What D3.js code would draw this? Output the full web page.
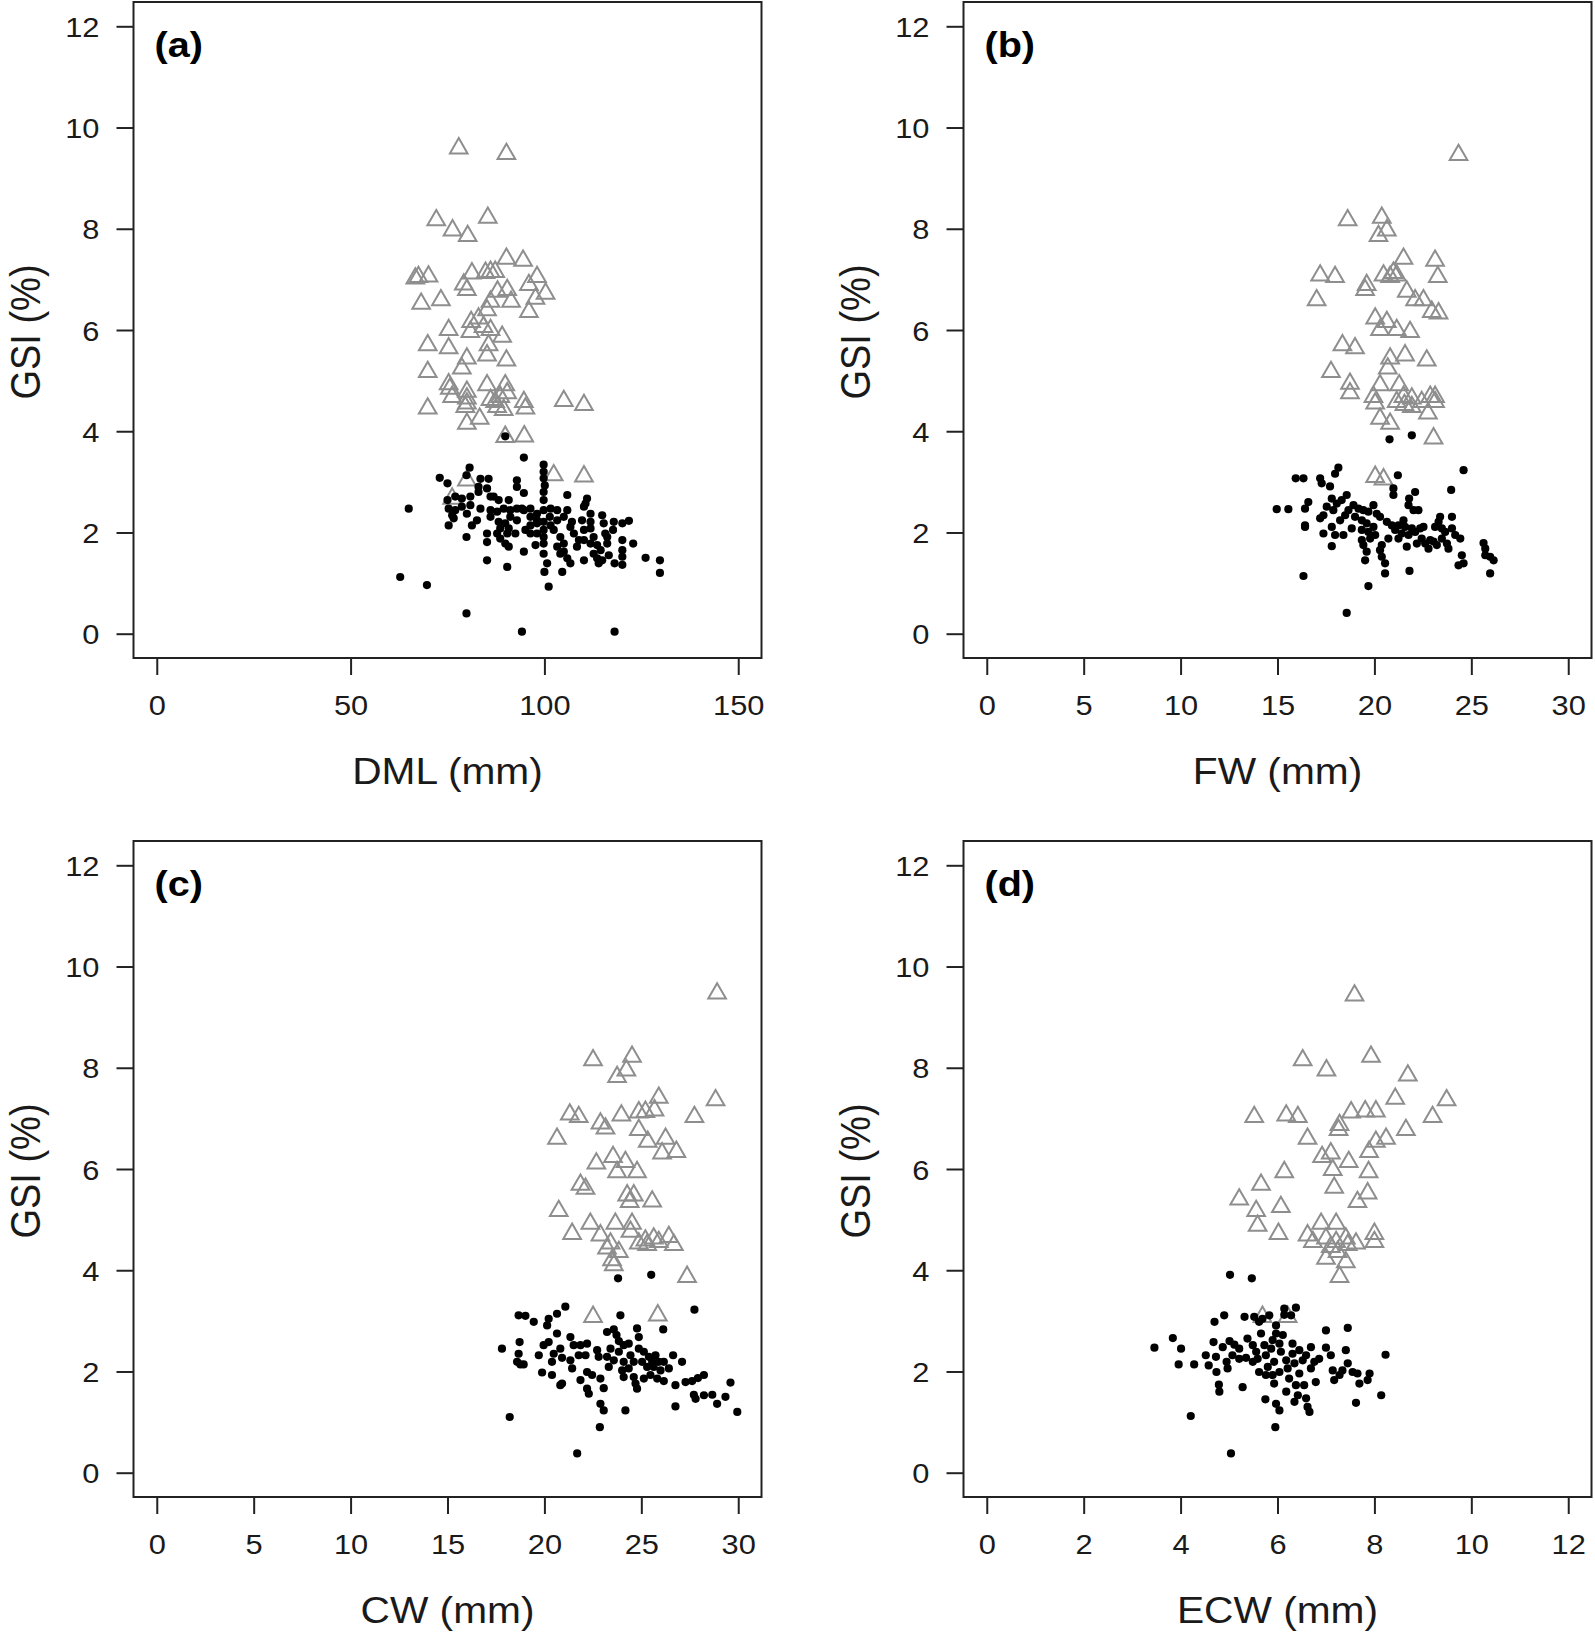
<!DOCTYPE html>
<html><head><meta charset="utf-8">
<script src="https://cdn.jsdelivr.net/npm/d3@7"></script>
<style>body{margin:0;background:#fff}svg{display:block}</style>
</head><body>
<svg id="chart" width="1595" height="1634"></svg>
<script>
// ---------- tick labels ----------
const gsiTicks = [0, 2, 4, 6, 8, 10, 12];
const dmlTicks = [0, 50, 100, 150];
const fwTicks = [0, 5, 10, 15, 20, 25, 30];
const cwTicks = [0, 5, 10, 15, 20, 25, 30];
const ecwTicks = [0, 2, 4, 6, 8, 10, 12];

// ---------- (a) DML vs GSI ----------
const dmlTri = [[77.9,9.59],[90.2,9.48],[72.1,8.17],[85.4,8.22],[76.3,7.97],[80.2,7.86],[90.2,7.41],[94.5,7.37],[67.5,7.05],[70.1,7.06],[66.7,7.02],[81.3,7.12],[86.1,7.15],[87.3,7.15],[84.8,7.13],[98.1,7.05],[79.2,6.90],[80.0,6.79],[96.0,6.89],[87.9,6.76],[90.4,6.79],[100.3,6.72],[97.7,6.62],[91.4,6.56],[68.2,6.52],[73.3,6.59],[86.1,6.56],[96.0,6.36],[85.2,6.39],[81.1,6.16],[83.0,6.23],[80.9,5.96],[84.3,6.06],[86.1,6.0],[75.3,6.0],[89.1,5.87],[69.9,5.70],[75.3,5.64],[85.6,5.70],[80.0,5.44],[85.2,5.5],[90.2,5.40],[78.7,5.24],[69.9,5.17],[75.3,4.93],[75.6,4.84],[80.0,4.78],[85.2,4.91],[89.9,4.91],[76.2,4.68],[80.0,4.65],[86.1,4.62],[88.6,4.68],[90.4,4.75],[87.3,4.58],[79.6,4.48],[94.7,4.58],[95.1,4.45],[69.9,4.45],[89.5,4.42],[105.0,4.60],[110.2,4.52],[83.3,4.25],[80.0,4.15],[89.9,3.89],[94.8,3.90],[102.4,3.13],[110.2,3.11],[80.0,3.03],[76.2,2.67],[87.8,4.48],[80.0,4.55]];
const dmlDot = [[62.8,1.12],[69.7,0.96],[79.9,0.40],[94.2,0.04],[118.1,0.04],[65.0,2.47],[89.9,3.90],[94.7,3.48],[73.0,3.08],[75.0,2.97],[80.7,3.28],[79.9,3.13],[99.8,3.34],[99.8,3.20],[99.8,3.07],[100.1,2.93],[99.8,2.80],[99.8,2.64],[92.9,3.03],[92.9,2.90],[94.7,2.78],[83.5,3.06],[85.6,3.06],[83.0,2.90],[85.2,2.87],[83.0,2.80],[105.9,2.74],[111.0,2.67],[110.6,2.57],[75.0,2.64],[86.1,2.71],[88.2,2.64],[90.8,2.64],[75.3,2.47],[77.0,2.44],[78.7,2.51],[80.9,2.54],[76.2,2.34],[76.6,2.28],[75.3,2.14],[82.6,2.24],[81.3,2.14],[79.9,1.91],[85.2,1.98],[85.2,1.81],[85.2,1.45],[90.4,1.32],[86.1,2.44],[87.8,2.41],[89.5,2.47],[91.2,2.44],[92.9,2.47],[94.7,2.44],[96.4,2.47],[98.1,2.37],[88.2,2.21],[89.9,2.18],[88.6,2.08],[90.4,1.98],[89.9,1.78],[90.8,1.72],[94.7,1.62],[95.1,2.05],[96.4,2.14],[98.1,2.18],[97.7,1.75],[99.8,1.58],[100.0,1.22],[101.1,0.93],[101.4,2.31],[101.6,2.14],[102.4,2.05],[103.3,2.44],[103.3,2.24],[105.0,2.31],[104.1,1.91],[105.0,1.78],[105.0,1.62],[105.9,1.49],[106.7,1.39],[104.6,1.22],[107.1,2.21],[107.6,1.98],[109.7,2.24],[110.2,2.05],[110.2,1.85],[110.2,1.45],[111.9,2.21],[111.9,2.08],[112.7,1.91],[113.6,1.75],[114.5,1.65],[114.0,1.39],[114.9,2.34],[115.3,2.18],[115.7,1.98],[116.2,1.78],[114.9,1.45],[117.9,2.21],[117.7,2.05],[118.1,1.39],[120.1,2.18],[120.1,1.85],[120.1,1.65],[120.1,1.52],[120.1,1.36],[121.8,2.23],[122.9,1.78],[126.1,1.50],[129.8,1.45],[129.8,1.20],[80.0,2.37],[83.5,2.47],[86.1,2.31],[86.9,2.71],[87.8,1.98],[88.6,1.88],[91.2,2.31],[92.9,2.24],[96.4,2.31],[98.1,2.24],[99.8,2.44],[99.8,2.21],[99.8,2.05],[99.8,1.91],[99.8,1.78],[101.6,2.47],[105.9,2.44],[106.7,2.11],[108.4,1.72],[108.9,1.85],[111.9,1.78],[112.7,1.58],[113.6,1.49],[116.6,1.55],[116.2,1.91],[80.9,2.71],[78.7,2.67],[77.0,2.71],[90.8,2.08],[92.5,1.98],[96.4,1.98],[98.1,1.98],[94.2,2.47],[100.7,1.39],[103.3,1.72],[104.1,1.58],[110.2,2.51],[111.9,2.37]];

// ---------- (b) FW vs GSI ----------
const fwTri = [[24.34,9.46],[18.62,8.17],[20.38,8.22],[20.64,7.97],[20.21,7.86],[21.5,7.41],[23.13,7.37],[17.2,7.08],[17.97,7.05],[20.47,7.08],[20.98,7.13],[21.15,7.08],[20.81,7.05],[23.27,7.05],[19.6,6.89],[19.52,6.79],[21.67,6.76],[22.1,6.59],[22.53,6.59],[17.02,6.59],[22.96,6.36],[23.31,6.33],[20.04,6.23],[20.64,6.16],[20.29,6.0],[21.15,6.0],[21.84,5.96],[18.35,5.70],[19.0,5.64],[20.81,5.44],[21.58,5.5],[22.7,5.40],[17.76,5.17],[20.69,5.24],[18.74,4.94],[18.74,4.75],[20.29,4.91],[21.28,4.91],[19.95,4.68],[20.04,4.55],[21.15,4.58],[21.5,4.68],[21.93,4.65],[22.44,4.58],[23.13,4.68],[23.13,4.58],[21.55,4.52],[22.76,4.35],[20.29,4.25],[20.81,4.15],[23.05,3.86],[20.04,3.10],[20.47,3.05],[21.93,4.48],[22.88,4.68]];
const fwDot = [[18.57,0.41],[16.34,1.14],[19.69,0.94],[20.55,1.19],[21.81,1.24],[20.78,3.84],[21.93,3.92],[24.6,3.23],[23.96,2.84],[18.14,3.28],[17.97,3.16],[15.94,3.07],[16.34,3.07],[17.2,3.07],[17.28,2.97],[17.71,2.91],[21.21,3.13],[20.98,2.87],[20.98,2.74],[22.1,2.80],[21.79,2.67],[21.76,2.54],[22.02,2.44],[22.27,2.44],[14.96,2.46],[15.56,2.46],[16.42,2.47],[16.59,2.60],[16.42,2.14],[16.42,2.11],[17.37,2.34],[17.2,2.28],[17.54,2.51],[17.8,2.67],[18.06,2.57],[18.31,2.64],[18.57,2.74],[17.88,2.44],[18.23,2.24],[17.8,2.11],[17.37,1.98],[17.97,1.95],[18.4,1.95],[17.8,1.73],[18.92,2.54],[19.18,2.47],[19.43,2.44],[19.69,2.41],[19.95,2.54],[20.12,2.37],[20.29,2.31],[19.35,2.24],[19.6,2.18],[19.35,2.05],[19.69,2.01],[19.95,2.11],[20.04,1.95],[19.43,1.75],[19.6,1.62],[19.52,1.45],[20.29,1.65],[20.38,1.75],[20.55,1.39],[20.72,1.88],[20.64,2.21],[20.9,2.14],[21.07,2.05],[21.41,1.98],[21.24,2.14],[21.5,2.24],[21.67,1.72],[21.76,1.95],[21.93,2.08],[22.1,2.01],[22.19,1.78],[22.36,2.08],[22.53,2.11],[22.62,1.78],[22.79,1.68],[22.88,1.85],[23.05,1.82],[23.13,2.11],[23.31,2.21],[23.39,2.31],[23.48,2.08],[23.48,1.88],[23.65,2.01],[23.74,1.78],[23.82,1.68],[24.0,2.31],[24.0,2.08],[24.17,1.95],[24.43,1.88],[24.51,1.55],[24.34,1.35],[24.6,1.39],[25.63,1.79],[25.72,1.68],[25.72,1.55],[25.97,1.52],[25.97,1.19],[26.15,1.45],[19.35,1.85],[18.66,2.44],[18.49,2.34],[19.0,2.31],[21.24,1.88],[21.58,2.11],[22.44,1.88],[23.22,1.75],[19.78,1.88],[20.38,1.52],[18.83,2.08]];

// ---------- (c) CW vs GSI ----------
const cwTri = [[28.91,9.47],[22.51,8.15],[24.52,8.22],[24.23,7.95],[23.75,7.82],[25.9,7.41],[28.83,7.36],[27.74,7.03],[21.31,7.08],[21.77,7.03],[23.97,7.06],[24.87,7.12],[25.21,7.13],[25.68,7.16],[22.89,6.9],[23.15,6.8],[20.65,6.6],[24.87,6.77],[25.33,6.54],[26.25,6.6],[26.07,6.31],[26.81,6.34],[23.54,6.24],[24.18,6.14],[23.75,5.94],[24.78,5.94],[22.68,6.11],[21.86,5.69],[22.12,5.61],[24.27,5.48],[24.61,5.48],[24.4,5.35],[25.56,5.36],[20.74,5.17],[22.37,4.92],[23.66,4.92],[24.52,4.92],[21.43,4.72],[22.89,4.69],[23.41,4.53],[24.87,4.53],[25.21,4.59],[25.64,4.63],[25.9,4.56],[26.42,4.66],[26.68,4.5],[23.84,4.36],[23.49,4.2],[23.58,4.1],[27.36,3.87],[22.51,3.08],[25.85,3.11],[25.3,4.5],[23.23,4.43],[24.44,4.76]];
const cwDot = [[21.69,0.38],[18.21,1.10],[22.86,0.90],[24.18,1.23],[26.76,1.31],[29.95,1.20],[29.6,1.78],[23.8,3.84],[25.51,3.91],[27.74,3.22],[26.13,2.83],[23.92,3.11],[21.08,3.28],[20.65,3.14],[20.22,3.04],[20.14,2.91],[18.67,3.11],[19.02,3.1],[19.45,2.98],[17.81,2.45],[18.72,2.58],[18.67,2.35],[18.76,2.14],[18.93,2.14],[19.88,1.98],[20.39,1.93],[20.39,2.19],[19.71,2.32],[19.96,2.52],[20.22,2.58],[20.65,2.75],[20.82,2.45],[20.91,2.27],[20.91,1.76],[21.34,2.68],[21.34,2.22],[21.43,2.06],[21.86,2.52],[21.86,1.83],[21.77,2.32],[22.2,2.55],[22.12,2.32],[22.2,1.99],[22.2,1.66],[22.29,1.56],[22.89,1.36],[23.06,1.23],[22.46,1.93],[22.72,2.42],[22.8,2.29],[22.89,1.86],[23.06,1.67],[23.32,2.09],[23.41,2.45],[23.58,2.83],[23.72,2.72],[23.84,2.6],[23.58,2.22],[23.84,2.39],[24.09,2.52],[24.09,2.19],[24.01,2.02],[24.09,1.89],[24.35,2.06],[24.44,2.32],[24.61,1.89],[24.7,1.76],[24.78,1.66],[24.87,2.68],[24.87,2.45],[25.04,2.19],[25.13,2.39],[25.3,2.09],[25.39,2.29],[25.47,1.93],[25.56,2.19],[25.64,2.09],[25.73,2.32],[25.82,1.86],[25.99,2.02],[26.16,2.19],[26.16,1.81],[26.42,2.06],[26.64,2.32],[26.76,1.73],[27.1,2.19],[27.28,1.79],[27.62,1.81],[27.92,1.87],[28.23,1.93],[27.71,1.54],[27.8,1.46],[28.23,1.53],[28.66,1.54],[28.91,1.36],[29.34,1.5],[24.78,2.85],[23.23,2.78],[24.35,2.55],[21.51,2.52],[20.48,2.35],[23.23,2.29],[24.61,2.19],[25.13,1.86],[25.9,2.19],[20.82,1.73],[18.59,2.19]];

// ---------- (d) ECW vs GSI ----------
const ecwTri = [[7.59,9.43],[6.52,8.15],[7.93,8.22],[7.01,7.95],[8.69,7.85],[8.43,7.39],[9.49,7.36],[9.2,7.03],[5.52,7.03],[6.18,7.06],[6.42,7.03],[7.52,7.12],[7.81,7.14],[8.03,7.14],[7.28,6.87],[7.26,6.77],[6.62,6.6],[8.24,6.6],[8.03,6.54],[8.65,6.77],[7.89,6.34],[6.92,6.24],[7.1,6.31],[7.47,6.14],[7.14,5.98],[7.88,5.94],[6.14,5.94],[5.66,5.69],[7.17,5.63],[7.86,5.52],[7.65,5.35],[5.21,5.4],[6.07,5.25],[5.56,5.17],[5.59,4.88],[6.02,4.72],[6.9,4.92],[7.21,4.92],[6.62,4.69],[6.73,4.56],[7.0,4.63],[7.21,4.56],[7.41,4.63],[7.45,4.5],[8.0,4.72],[8.0,4.56],[7.0,4.23],[7.24,4.36],[7.41,4.16],[7.28,3.87],[5.69,3.08],[6.21,3.08],[7.1,4.46],[7.62,4.53]];
const ecwDot = [[5.04,0.38],[4.21,1.12],[5.955,0.9],[8.14,1.53],[7.62,1.38],[8.23,2.33],[5.02,3.91],[5.47,3.84],[3.46,2.47],[3.84,2.66],[4.01,2.45],[3.96,2.14],[4.28,2.14],[4.52,2.32],[4.58,2.12],[4.7,2.98],[4.9,3.11],[4.68,2.58],[4.74,1.99],[4.79,1.74],[4.8,1.6],[4.87,2.48],[4.95,2.19],[5.01,2.6],[5.11,2.53],[5.21,2.45],[4.97,2.06],[5.28,1.69],[5.32,3.08],[5.52,3.08],[5.38,2.65],[5.49,2.52],[5.35,2.27],[5.49,2.19],[5.59,2.25],[5.56,2.39],[5.66,2.75],[5.73,2.52],[5.76,2.32],[5.8,2.09],[5.75,1.45],[5.87,2.45],[5.9,2.62],[5.97,2.91],[5.97,2.75],[5.93,2.19],[5.9,1.93],[5.93,1.76],[5.97,1.36],[6.04,1.23],[6.04,2.55],[6.07,2.39],[6.14,3.24],[6.14,3.12],[6.28,3.11],[6.38,3.26],[6.18,2.22],[6.21,2.06],[6.24,1.86],[6.31,2.55],[6.31,2.35],[6.35,2.16],[6.38,1.73],[6.42,1.53],[6.45,1.96],[6.52,2.22],[6.55,1.73],[6.59,1.47],[6.62,1.3],[6.66,1.2],[6.69,2.48],[6.69,2.06],[6.76,2.19],[6.79,1.79],[6.86,2.25],[7.0,2.47],[7.0,2.81],[7.1,2.32],[7.14,2.02],[7.17,1.83],[7.28,1.93],[7.41,2.42],[7.45,2.16],[7.45,2.86],[7.55,1.99],[7.65,1.96],[7.69,1.76],[7.9,1.96],[7.86,1.83],[5.62,2.98],[5.69,3.04],[5.83,3.11],[4.73,2.29],[5.07,2.32],[5.21,2.25],[5.62,1.99],[6.04,1.99],[6.11,2.72],[6.45,2.42],[6.59,2.32],[6.18,1.6],[6.35,1.4],[7.34,2.02],[5.76,1.93]];

// ---------- layout ----------
const FONT = "'Liberation Sans', Arial, Helvetica, sans-serif";
const STRETCH = 1.1;
const PW = 628, PH = 656;
const panels = [
  {label: "(a)", title: "DML (mm)", xTicks: dmlTicks, tri: dmlTri, dot: dmlDot, left: 133.5, top: 2},
  {label: "(b)", title: "FW (mm)",  xTicks: fwTicks,  tri: fwTri,  dot: fwDot,  left: 963.5, top: 2},
  {label: "(c)", title: "CW (mm)",  xTicks: cwTicks,  tri: cwTri,  dot: cwDot,  left: 133.5, top: 841},
  {label: "(d)", title: "ECW (mm)", xTicks: ecwTicks, tri: ecwTri, dot: ecwDot, left: 963.5, top: 841}
];

const svg = d3.select("#chart");
svg.append("rect").attr("width", 1595).attr("height", 1634).attr("fill", "#fff");

// R-style triangle (pch = 2)
const TR = 10.2;
const triPath = `M0,${-TR} L${0.866*TR},${TR/2} L${-0.866*TR},${TR/2} Z`;

panels.forEach(p => {
  const xmin = d3.min(p.xTicks), xmax = d3.max(p.xTicks);
  const xpad = 0.04 * (xmax - xmin);
  const ymin = d3.min(gsiTicks), ymax = d3.max(gsiTicks);
  const ypad = 0.04 * (ymax - ymin);
  const x = d3.scaleLinear().domain([xmin - xpad, xmax + xpad]).range([p.left, p.left + PW]);
  const y = d3.scaleLinear().domain([ymin - ypad, ymax + ypad]).range([p.top + PH, p.top]);

  const g = svg.append("g");

  // triangles (gray open)
  g.append("g").selectAll("path").data(p.tri).join("path")
    .attr("d", triPath)
    .attr("transform", d => `translate(${x(d[0])},${y(d[1])})`)
    .attr("fill", "none").attr("stroke", "#8e8e8e").attr("stroke-width", 2);

  // dots (black filled)
  g.append("g").selectAll("circle").data(p.dot).join("circle")
    .attr("cx", d => x(d[0])).attr("cy", d => y(d[1])).attr("r", 4.1)
    .attr("fill", "#000");

  // box
  g.append("rect").attr("x", p.left).attr("y", p.top).attr("width", PW).attr("height", PH)
    .attr("fill", "none").attr("stroke", "#222").attr("stroke-width", 2);

  // x axis
  const xa = g.append("g").attr("transform", `translate(0,${p.top + PH})`)
    .call(d3.axisBottom(x).tickValues(p.xTicks).tickSize(17).tickSizeOuter(0).tickFormat(d3.format("d")));
  xa.select(".domain").remove();
  xa.selectAll("line").attr("stroke", "#222").attr("stroke-width", 2);
  xa.selectAll("text").attr("y", 0).attr("dy", null)
    .attr("transform", `translate(0,57) scale(${STRETCH},1)`)
    .attr("font-family", FONT).attr("font-size", 28).attr("fill", "#1a1a1a");

  // y axis
  const ya = g.append("g").attr("transform", `translate(${p.left},0)`)
    .call(d3.axisLeft(y).tickValues(gsiTicks).tickSize(17).tickSizeOuter(0).tickFormat(d3.format("d")));
  ya.select(".domain").remove();
  ya.selectAll("line").attr("stroke", "#222").attr("stroke-width", 2);
  ya.selectAll("text").attr("x", 0).attr("dy", null).attr("y", 0)
    .attr("transform", `translate(-34,10) scale(${STRETCH},1)`)
    .attr("font-family", FONT).attr("font-size", 28).attr("fill", "#1a1a1a");

  // x title
  g.append("text").text(p.title)
    .attr("transform", `translate(${p.left + PW / 2},${p.top + PH + 126}) scale(${STRETCH},1)`)
    .attr("text-anchor", "middle").attr("font-family", FONT).attr("font-size", 37).attr("fill", "#1a1a1a");

  // y title
  g.append("text").text("GSI (%)")
    .attr("transform", `translate(${p.left - 94},${p.top + PH / 2 + 2}) scale(${STRETCH},1) rotate(-90)`)
    .attr("text-anchor", "middle").attr("font-family", FONT).attr("font-size", 38).attr("fill", "#1a1a1a");

  // panel label
  g.append("text").text(p.label)
    .attr("transform", `translate(${p.left + 21},${p.top + 55}) scale(${STRETCH},1)`)
    .attr("font-family", FONT).attr("font-weight", "bold").attr("font-size", 36).attr("fill", "#000");
});
</script>
</body></html>
